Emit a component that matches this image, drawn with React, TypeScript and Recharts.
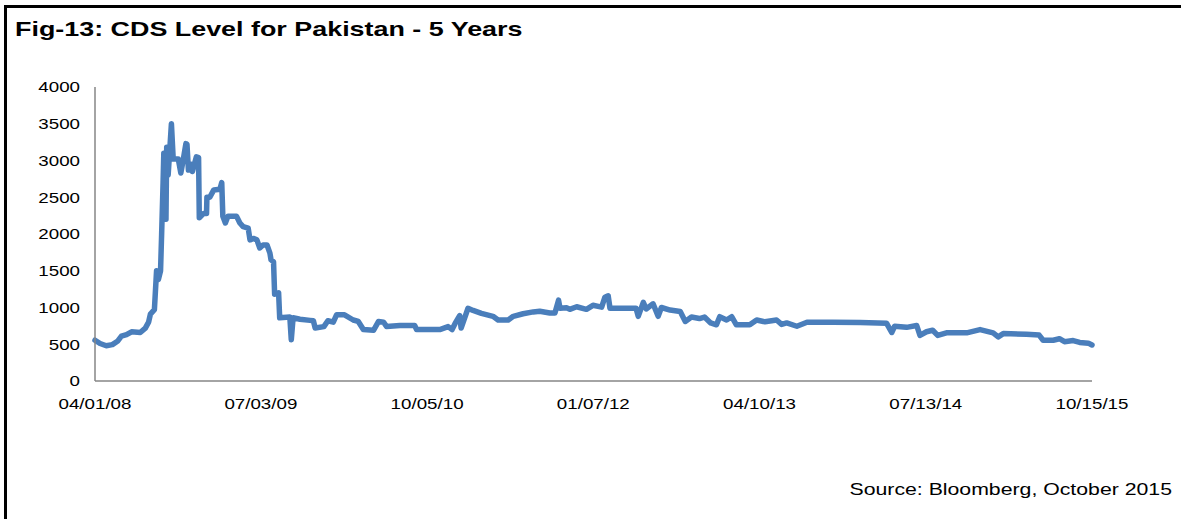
import React from 'react';
import { LineChart, Line, XAxis, YAxis } from 'recharts';

const dates: string[] = [
  '2008-04-01','2008-04-15','2008-05-02','2008-05-19','2008-06-02','2008-06-13','2008-06-27','2008-07-11','2008-08-04','2008-08-18',
  '2008-08-27','2008-09-01','2008-09-12','2008-09-18','2008-09-23','2008-09-29','2008-10-02','2008-10-06','2008-10-08','2008-10-14',
  '2008-10-16','2008-10-20','2008-10-29','2008-11-03','2008-11-17','2008-11-24','2008-12-01','2008-12-08','2008-12-11','2008-12-15',
  '2008-12-22','2008-12-26','2009-01-06','2009-01-12','2009-01-14','2009-01-26','2009-02-03','2009-02-04','2009-02-12','2009-02-23',
  '2009-03-12','2009-03-17','2009-03-20','2009-03-27','2009-04-03','2009-04-27','2009-05-06','2009-05-15','2009-05-29','2009-06-03',
  '2009-06-12','2009-06-22','2009-06-30','2009-07-09','2009-07-20','2009-07-28','2009-07-31','2009-08-07','2009-08-10','2009-08-21',
  '2009-08-24','2009-09-21','2009-09-25','2009-09-30','2009-10-19','2009-11-16','2009-11-25','2009-11-30','2009-12-24','2010-01-04',
  '2010-01-19','2010-01-28','2010-02-19','2010-03-15','2010-03-29','2010-04-12','2010-05-10','2010-05-24','2010-06-07','2010-06-15',
  '2010-07-22','2010-09-01','2010-09-06','2010-11-09','2010-12-02','2010-12-13','2010-12-21','2011-01-03','2011-01-07','2011-01-26',
  '2011-02-09','2011-03-04','2011-04-05','2011-04-19','2011-05-17','2011-05-31','2011-06-27','2011-07-25','2011-08-12','2011-09-09',
  '2011-09-23','2011-10-03','2011-10-07','2011-10-25','2011-11-03','2011-11-22','2011-12-19','2012-01-06','2012-01-30','2012-02-08',
  '2012-02-17','2012-02-22','2012-05-04','2012-05-10','2012-05-24','2012-06-01','2012-06-20','2012-07-04','2012-07-13','2012-08-06',
  '2012-09-03','2012-09-17','2012-10-04','2012-10-26','2012-11-09','2012-11-26','2012-12-12','2012-12-21','2013-01-09','2013-01-23',
  '2013-02-05','2013-03-14','2013-04-02','2013-04-25','2013-05-27','2013-06-10','2013-06-24','2013-07-22','2013-08-19','2013-10-30',
  '2014-01-13','2014-03-27','2014-04-10','2014-04-18','2014-05-21','2014-06-18','2014-06-27','2014-07-15','2014-08-01','2014-08-15',
  '2014-09-08','2014-11-03','2014-12-10','2015-01-15','2015-01-29','2015-02-12','2015-04-17','2015-05-22','2015-06-02','2015-06-30',
  '2015-07-17','2015-07-31','2015-08-24','2015-09-11','2015-10-05','2015-10-15',
];

const cds: number[] = [
  555, 510, 480, 495, 540, 610, 630, 670, 660, 720,
  800, 910, 970, 1500, 1380, 1500, 2000, 2700, 3100, 2200,
  3180, 2800, 3500, 3020, 3020, 2830, 3020, 3230, 3220, 2870,
  2950, 2850, 3050, 3040, 2220, 2280, 2280, 2500, 2500, 2600,
  2610, 2700, 2240, 2150, 2240, 2240, 2150, 2100, 2080, 1920,
  1940, 1920, 1810, 1850, 1850, 1740, 1650, 1620, 1180, 1200,
  860, 870, 560, 860, 840, 825, 820, 720, 740, 820,
  800, 900, 900, 830, 810, 700, 690, 810, 800, 740,
  755, 755, 700, 700, 740, 700, 780, 890, 720, 990,
  960, 920, 880, 830, 830, 880, 915, 940, 950, 925,
  925, 1100, 990, 995, 975, 1010, 975, 1030, 1005, 1140,
  1160, 990, 990, 880, 1070, 980, 1050, 880, 1000, 965,
  945, 810, 870, 850, 870, 790, 765, 875, 830, 875,
  765, 765, 830, 805, 830, 770, 790, 745, 800, 800,
  795, 785, 660, 745, 730, 755, 620, 670, 690, 620,
  655, 655, 700, 655, 600, 645, 635, 625, 555, 555,
  575, 535, 550, 525, 515, 490,
];

const xTickDates: string[] = ['2008-04-01', '2009-07-03', '2010-10-05', '2012-01-07', '2013-04-10', '2014-07-13', '2015-10-15'];
const yTicks: number[] = [0, 500, 1000, 1500, 2000, 2500, 3000, 3500, 4000];

const titleText = 'Fig-13: CDS Level for Pakistan - 5 Years';
const sourceText = 'Source: Bloomberg, October 2015';

const toTs = (s: string) => {
  const [y, m, d] = s.split('-').map(Number);
  return Date.UTC(y, m - 1, d);
};

const data = dates.map((d, i) => ({ t: toTs(d), v: cds[i] }));
const xTicks = xTickDates.map(toTs);

const pad = (n: number) => (n < 10 ? '0' + n : '' + n);
const fmtDate = (ts: number) => {
  const dt = new Date(ts);
  return `${pad(dt.getUTCMonth() + 1)}/${pad(dt.getUTCDate())}/${pad(dt.getUTCFullYear() % 100)}`;
};

const FONT = '"Liberation Sans", Arial, Helvetica, sans-serif';
const STRETCH = 1.25;

const XTick = (props: any) => {
  const { x, y, payload } = props;
  return (
    <g transform={`translate(${x},${y})`}>
      <text transform={`scale(${STRETCH},1)`} textAnchor="middle" dy="0.71em" fontSize={15} fontFamily={FONT} fill="#000">
        {fmtDate(payload.value)}
      </text>
    </g>
  );
};

const YTick = (props: any) => {
  const { x, y, payload } = props;
  return (
    <g transform={`translate(${x},${y})`}>
      <text transform={`scale(${STRETCH},1)`} textAnchor="end" dy="0.355em" fontSize={15} fontFamily={FONT} fill="#000">
        {payload.value}
      </text>
    </g>
  );
};

export default function App() {
  return (
    <div style={{ position: 'absolute', left: 0, top: 0, width: 1181, height: 519, background: '#fff', overflow: 'hidden', fontFamily: FONT }}>
      <div style={{ position: 'absolute', left: 4, top: 5, width: 1200, height: 540, borderLeft: '3px solid #000', borderTop: '3px solid #000', boxSizing: 'border-box' }} />
      <div style={{ position: 'absolute', left: 15, top: 18, fontSize: 21, lineHeight: '21px', fontWeight: 'bold', whiteSpace: 'nowrap', transform: 'scaleX(1.28)', transformOrigin: 'left top', color: '#000' }}>
        {titleText}
      </div>
      <div style={{ position: 'absolute', right: 9, top: 481, fontSize: 17, lineHeight: '17px', whiteSpace: 'nowrap', transform: `scaleX(${STRETCH})`, transformOrigin: 'right top', color: '#000' }}>
        {sourceText}
      </div>
      <div style={{ position: 'absolute', left: 0, top: 0 }}>
        <LineChart width={1181} height={519} data={data} margin={{ top: 87, right: 89, bottom: 108, left: 35 }}>
          <XAxis
            dataKey="t"
            type="number"
            scale="linear"
            domain={[xTicks[0], xTicks[xTicks.length - 1]]}
            ticks={xTicks}
            tick={<XTick />}
            tickLine={false}
            tickMargin={11}
            height={30}
            axisLine={{ stroke: '#868686', strokeWidth: 1.5 }}
            interval={0}
          />
          <YAxis
            type="number"
            domain={[0, 4000]}
            ticks={yTicks}
            tick={<YTick />}
            tickLine={false}
            tickMargin={9}
            width={60}
            axisLine={{ stroke: '#868686', strokeWidth: 1.5 }}
            interval={0}
          />
          <Line
            type="linear"
            dataKey="v"
            stroke="#4a7ebb"
            strokeWidth={5.5}
            strokeLinejoin="round"
            strokeLinecap="round"
            dot={false}
            isAnimationActive={false}
          />
        </LineChart>
      </div>
    </div>
  );
}
